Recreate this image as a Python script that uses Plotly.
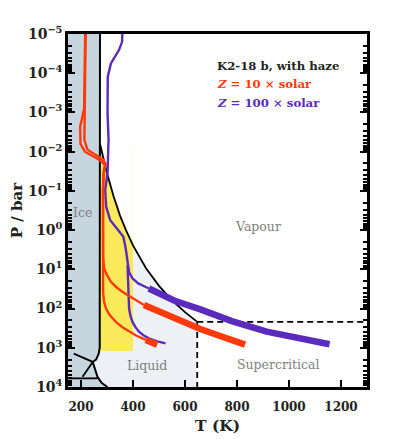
import plotly.graph_objects as go

# water phase boundaries (T in K, log10 P in bar)
boil_T = [273, 300, 325, 350, 373, 400, 450, 500, 550, 600, 647]
boil_logP = [-2.2, -1.45, -0.87, -0.37, 0.0, 0.39, 0.97, 1.42, 1.79, 2.09, 2.34]

melt_T = [273, 273, 272, 268, 258, 245, 255, 264, 280, 302]
melt_logP = [-5, 2.6, 3.0, 3.15, 3.3, 3.36, 3.6, 3.75, 3.9, 4.0]

ice_lines = [
    ([245, 172], [3.36, 3.15]),
    ([245, 206], [3.36, 3.74]),
    ([150, 262], [3.78, 3.78]),
]

T_crit, logP_crit = 647, 2.34
hab_T = [273, 400]
hab_logP_bottom = 3.08

# Z = 10 x solar profiles
r1_T = [216, 214, 212, 204, 197, 198, 215, 255, 280, 292, 287, 284, 284, 285, 289, 300, 315, 335, 359, 385, 410, 442]
r1_logP = [-5, -4, -3.1, -2.85, -2.65, -2.2, -2.0, -1.85, -1.75, -1.65, -1.5, -1.0, 0.0, 0.7, 0.98, 1.15, 1.32, 1.45, 1.57, 1.68, 1.79, 1.91]
r1_deep_T = [442, 500, 550, 600, 659, 735, 831]
r1_deep_logP = [1.91, 2.08, 2.23, 2.38, 2.52, 2.7, 2.92]

r2_T = [218, 216, 215, 214, 213, 225, 260, 285, 295, 288, 285, 284, 284, 285, 288, 296, 312, 334, 358, 385, 410, 436, 449]
r2_logP = [-5, -4, -3.1, -2.8, -2.3, -2.05, -1.9, -1.8, -1.68, -1.5, -1.0, 0.0, 1.0, 1.57, 1.8, 2.0, 2.18, 2.34, 2.47, 2.59, 2.68, 2.76, 2.8]
r2_deep_T = [449, 470, 493]
r2_deep_logP = [2.8, 2.86, 2.92]

# Z = 100 x solar profiles
p1_T = [359, 358, 346, 315, 303, 302, 306, 302, 293, 297, 312, 338, 363, 372, 377, 379, 385, 398, 420, 449, 461]
p1_logP = [-5, -4.8, -4.59, -4.25, -3.91, -3.0, -2.3, -1.45, -1.02, -0.59, -0.26, -0.04, 0.17, 0.47, 0.7, 0.89, 1.08, 1.23, 1.36, 1.45, 1.49]
p1_deep_T = [461, 560, 659, 780, 914, 1040, 1156]
p1_deep_logP = [1.49, 1.8, 2.02, 2.32, 2.59, 2.77, 2.91]

p2_T = [379, 381, 383, 385, 390, 398, 410, 423, 440, 461, 490, 525]
p2_logP = [0.89, 1.2, 1.6, 2.0, 2.18, 2.34, 2.48, 2.59, 2.68, 2.76, 2.83, 2.89]

RED = "#ff3a0a"
PURPLE = "#5a2bbd"
FONT = "DejaVu Serif"


def P(vals):
    return [10 ** v for v in vals]


fig = go.Figure()


def fill(xs, logps, color):
    fig.add_trace(go.Scatter(x=xs, y=P(logps), fill="toself", fillcolor=color,
                             mode="lines", line=dict(width=0), hoverinfo="skip"))


def line(xs, logps, color, width, dash=None):
    fig.add_trace(go.Scatter(x=xs, y=P(logps), mode="lines",
                             line=dict(color=color, width=width, dash=dash),
                             hoverinfo="skip"))


# ice region
fill([150] + melt_T + [150], [-5] + melt_logP + [4], "#c7d5df")

# liquid region: boiling curve, down to the bottom, back up the melting line
liq_x = boil_T + [T_crit] + melt_T[::-1][:-1] + [273]
liq_y = boil_logP + [4] + melt_logP[::-1][:-1] + [boil_logP[0]]
fill(liq_x, liq_y, "#edf1f5")

# habitable (yellow) region
hab_edge_T = [t for t in boil_T if t <= hab_T[1]]
hab_edge_P = boil_logP[:len(hab_edge_T)]
fill(hab_edge_T + [hab_T[1], hab_T[0]], hab_edge_P + [hab_logP_bottom, hab_logP_bottom], "#fbe95c")
line([hab_T[1], hab_T[1]], [-2.1, boil_logP[5]], "#faf6d6", 1)

# phase lines
line(melt_T, melt_logP, "black", 2)
line(boil_T, boil_logP, "black", 1.8)
for xs, ys in ice_lines:
    line(xs, ys, "black", 1.8)
line([T_crit, 1300], [logP_crit, logP_crit], "black", 1.8, "6px,4px")
line([T_crit, T_crit], [logP_crit, 4], "black", 1.8, "6px,4px")

# temperature-pressure profiles
line(p1_T, p1_logP, PURPLE, 2.4)
line(p2_T, p2_logP, PURPLE, 2.4)
line(p1_deep_T, p1_deep_logP, PURPLE, 6.5)
line(r1_T, r1_logP, RED, 2.4)
line(r2_T, r2_logP, RED, 2.4)
line(r1_deep_T, r1_deep_logP, RED, 6.5)
line(r2_deep_T, r2_deep_logP, RED, 6.5)

# region labels
labels = [("Ice", 205, -0.46), ("Vapour", 881, -0.1), ("Liquid", 452, 3.44), ("Supercritical", 957, 3.42)]
for txt, tx, ty in labels:
    fig.add_annotation(x=tx, y=ty, text=txt, showarrow=False,
                       font=dict(family=FONT, size=12.5, color="#7f7f7f"))

legend_lines = [("<b>K2-18 b, with haze</b>", "#222222"),
                ("<b><i>Z</i> = 10 × solar</b>", RED),
                ("<b><i>Z</i> = 100 × solar</b>", PURPLE)]
for i, (txt, col) in enumerate(legend_lines):
    fig.add_annotation(xref="paper", yref="paper", x=0.49, y=0.909 - i * 0.052,
                       xanchor="left", yanchor="middle", text=txt, showarrow=False,
                       font=dict(family=FONT, size=11.7, color=col))

ytick_vals = [10 ** k for k in range(-5, 5)]
ytick_text = ["<b>10<sup>%s</sup></b>" % (str(k).replace("-", "−")) for k in range(-5, 5)]
xtick_vals = [200, 400, 600, 800, 1000, 1200]

# page body has an 8px margin, so the figure is shifted back by that much
fig.update_layout(
    width=391, height=431,
    margin=dict(l=60, r=32, t=26, b=52),
    plot_bgcolor="white", paper_bgcolor="white",
    showlegend=False,
    font=dict(family=FONT, color="#222222"),
    xaxis=dict(range=[150, 1300], tickvals=xtick_vals,
               ticktext=["<b>%d</b>" % v for v in xtick_vals],
               ticks="inside", ticklen=7, tickwidth=2, tickcolor="black",
               ticklabelstandoff=7,
               showline=True, linecolor="black", linewidth=2.5, mirror=True,
               showgrid=False, zeroline=False, automargin=False,
               tickfont=dict(family=FONT, size=12, color="#222222"),
               title=dict(text="<b>T (K)</b>", font=dict(family=FONT, size=15.5), standoff=7)),
    yaxis=dict(type="log", range=[4, -5], tickvals=ytick_vals, ticktext=ytick_text,
               ticks="inside", ticklen=7, tickwidth=2, tickcolor="black",
               minor=dict(ticks="inside", ticklen=4, tickwidth=1.5, tickcolor="black", dtick="D1"),
               showline=True, linecolor="black", linewidth=2.5, mirror="ticks",
               showgrid=False, zeroline=False, automargin=False,
               tickfont=dict(family=FONT, size=14, color="#222222"),
               title=dict(text="<b>P / bar</b>", font=dict(family=FONT, size=15), standoff=6)),
)

fig.write_html("out.html")
